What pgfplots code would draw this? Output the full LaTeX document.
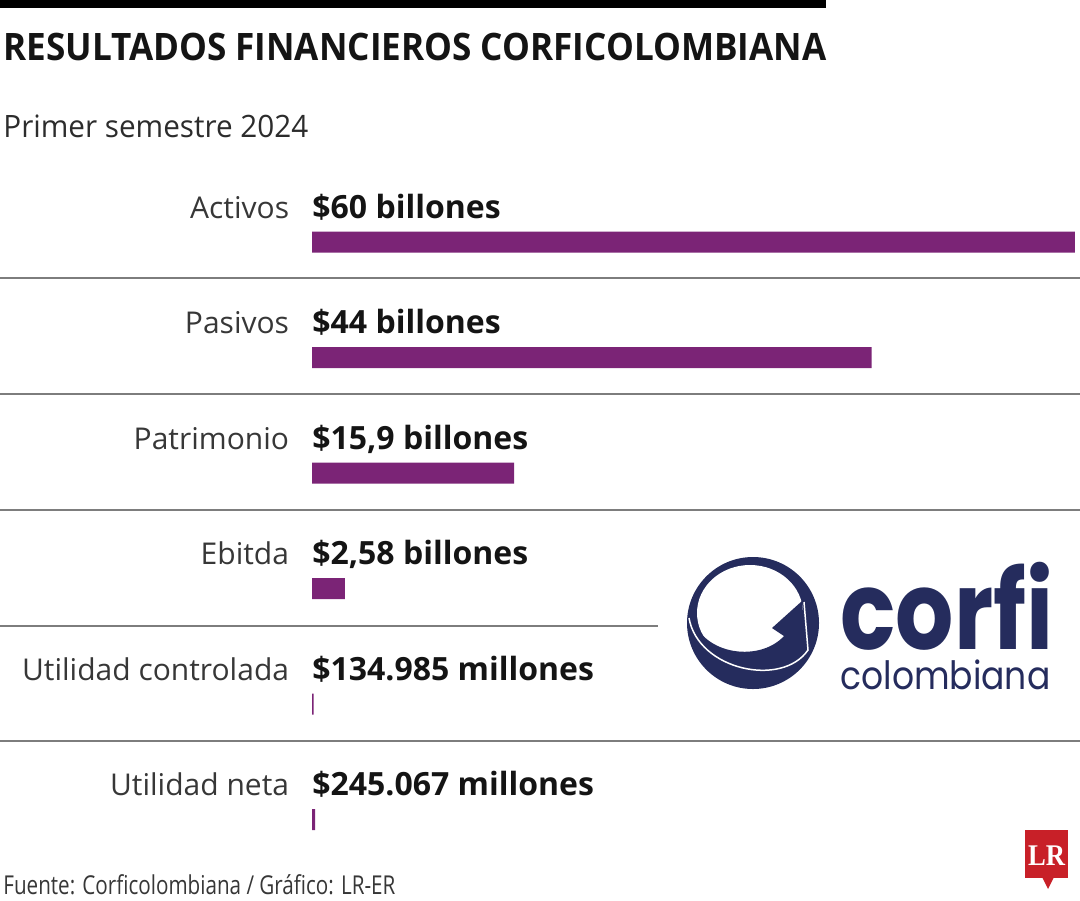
\documentclass[border=0pt]{standalone}
\usepackage{fontspec}
\setmainfont{Open Sans}
\newfontfamily\logofont{Poppins}
\newfontfamily\lrfont{Liberation Serif}
\usepackage{graphicx}
\usepackage{pgfplots}
\pgfplotsset{compat=1.18}
\definecolor{barpurple}{RGB}{123,36,118}
\definecolor{rulegray}{RGB}{125,125,125}
\definecolor{navy}{RGB}{37,44,93}
\definecolor{lrred}{RGB}{200,32,40}
\definecolor{txt}{RGB}{20,20,20}
\tikzset{val/.style={anchor=base west, inner sep=0pt, yshift=12pt, text=txt,
    font=\fontsize{16}{19}\selectfont\bfseries}}

\begin{document}
\begin{tikzpicture}[x=0.5pt,y=-0.5pt]
\path[use as bounding box] (0,0) rectangle (1080,900);

% header
\fill[black] (0,0) rectangle (826,8);
\node[anchor=base west, inner sep=0pt, text=txt] at (3,60)
  {\resizebox{411.5pt}{\height}{\fontsize{18.9}{19}\selectfont\bfseries RESULTADOS FINANCIEROS CORFICOLOMBIANA}};
\node[anchor=base west, inner sep=0pt, text=txt!90] at (3,137)
  {\resizebox{152.5pt}{\height}{\fontsize{15.4}{16}\selectfont Primer semestre 2024}};

% separators
\foreach \yy in {278,394,510,741}
  \draw[rulegray, line width=1pt] (0,\yy) -- (1080,\yy);
\draw[rulegray, line width=1pt] (0,626) -- (658,626);

\coordinate (axo) at (312,184.25);
\begin{axis}[
  at={(axo)}, anchor=north west,
  scale only axis, width=381.5pt, height=346.5pt,
  xmin=0, xmax=60, ymin=-0.5, ymax=5.5, y dir=reverse,
  xbar, bar width=10.5pt,
  axis line style={draw=none}, tick style={draw=none},
  xtick=\empty, ytick={0,...,5},
  yticklabels={Activos,Pasivos,Patrimonio,Ebitda,Utilidad controlada,Utilidad neta},
  y tick label style={anchor=base east, inner sep=0pt, xshift=-7pt, yshift=12pt,
    text=txt!85, font=\fontsize{15}{18}\selectfont},
  clip=false,
]
\addplot[fill=barpurple, draw=none] coordinates {
  (60,0) (44,1) (15.9,2) (2.58,3) (0.134985,4) (0.245067,5)};
\node[val] at (axis cs:0,0) {\$60 billones};
\node[val] at (axis cs:0,1) {\$44 billones};
\node[val] at (axis cs:0,2) {\$15,9 billones};
\node[val] at (axis cs:0,3) {\$2,58 billones};
\node[val] at (axis cs:0,4) {\$134.985 millones};
\node[val] at (axis cs:0,5) {\$245.067 millones};
\end{axis}

% corfi logo
\fill[navy] (753,623) circle[radius=33pt];
\fill[white] (750,613) ellipse[x radius=26.5pt, y radius=24pt];
\fill[navy] (697,628) .. controls (714,656) and (762,660) .. (784,636)
  -- (772,628) -- (802,601) -- (806,649) -- (796,643)
  .. controls (780,668) and (720,672) .. (693,640) -- cycle;
\draw[white, line width=0.75pt] (689,618) .. controls (698,670) and (782,688) .. (808,650) -- (804,602);
\node[anchor=base west, inner sep=0pt, text=navy] at (840,649)
  {\resizebox{106.5pt}{\height}{\logofont\fontsize{54.5}{55}\selectfont\bfseries corfi}};
\node[anchor=base west, inner sep=0pt, text=navy] at (840,689)
  {\resizebox{105pt}{\height}{\logofont\fontsize{19.5}{20}\selectfont colombiana}};

% LR logo
\fill[lrred] (1025,830) rectangle (1068,878);
\fill[lrred] (1042,877) -- (1048,889) -- (1054,877) -- cycle;
\node[anchor=base, inner sep=0pt, text=white] at (1046.5,865)
  {\resizebox{18.5pt}{\height}{\lrfont\fontsize{15}{15}\selectfont\bfseries LR}};

% footer
\node[anchor=base west, inner sep=0pt, text=txt!85] at (3,894)
  {\resizebox{196pt}{\height}{\fontsize{13}{14}\selectfont Fuente: Corficolombiana / Gráfico: LR-ER}};
\end{tikzpicture}
\end{document}
